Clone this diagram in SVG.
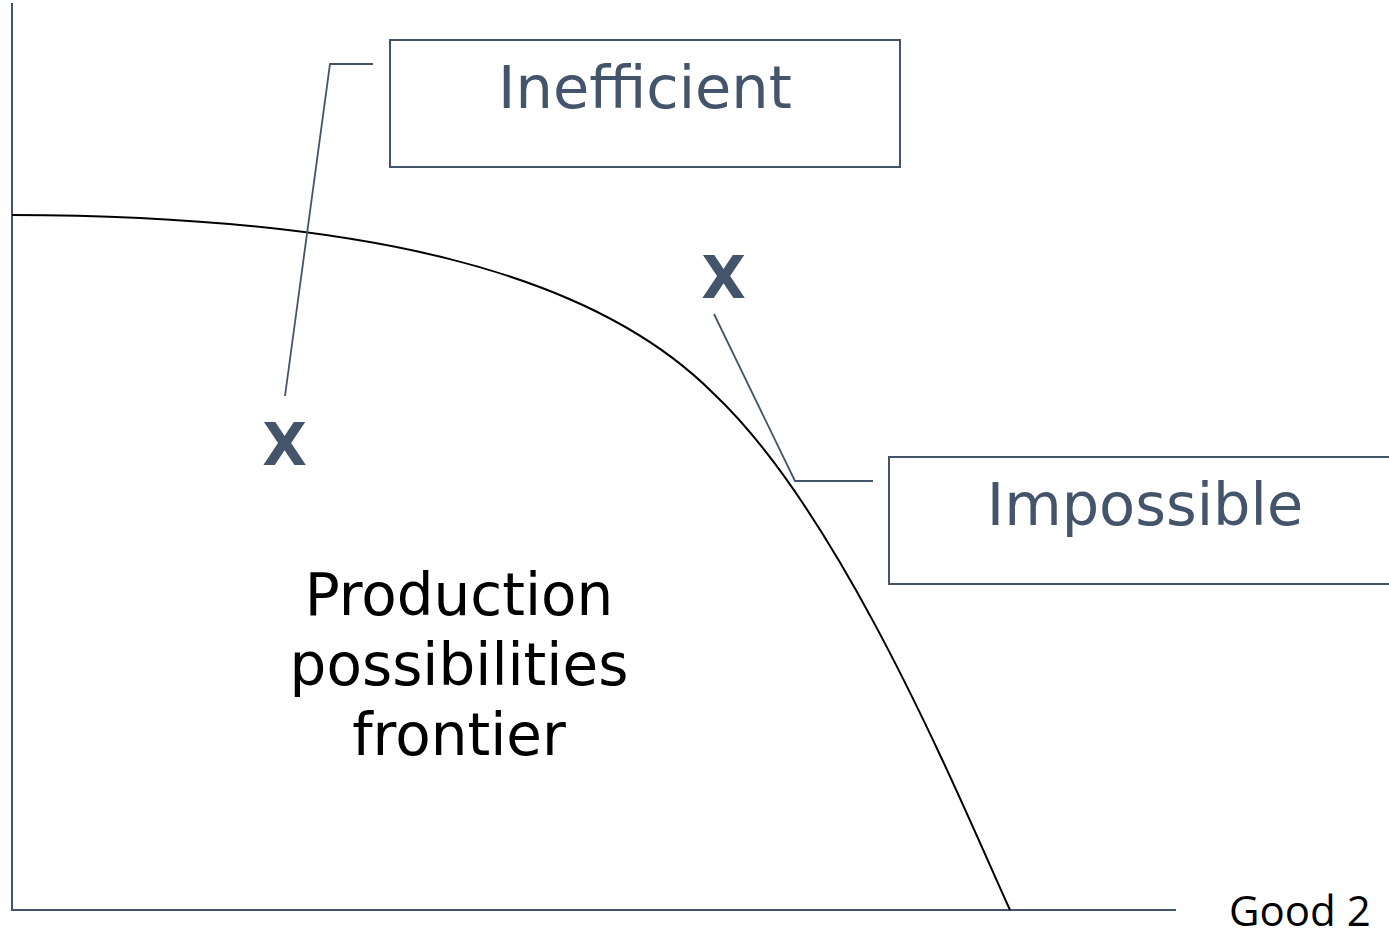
<svg xmlns="http://www.w3.org/2000/svg" width="1389" height="933" viewBox="0 0 1389 933">
  <style>
    .axis { stroke: #44546a; stroke-width: 2; fill: none; }
    .curve { stroke: #000000; stroke-width: 2; fill: none; }
    .leader { stroke: #44546a; stroke-width: 1.8; fill: none; }
    .box { stroke: #44546a; stroke-width: 2; fill: #ffffff; }
    .label { font-family: "DejaVu Sans", Verdana, sans-serif; font-size: 59px; fill: #44546a; text-anchor: middle; }
    .mark { font-family: "DejaVu Sans", Verdana, sans-serif; font-weight: bold; font-size: 58px; fill: #44546a; text-anchor: middle; }
    .ppf { font-family: "DejaVu Sans", Verdana, sans-serif; font-size: 58px; fill: #000000; text-anchor: middle; }
    .good { font-family: "Open Sans", "Liberation Sans", sans-serif; font-size: 42px; fill: #000000; }
  </style>
  <rect width="1389" height="933" fill="#ffffff"/>
  <g id="axes">
    <line class="axis" x1="12" y1="3" x2="12" y2="911"/>
    <line class="axis" x1="11" y1="910" x2="1176" y2="910"/>
  </g>
  <g id="frontier">
    <path class="curve" d="M12,215 C362,216 591,271 713,393 C843,515 960,800 1010,910"/>
  </g>
  <g id="connectors">
    <polyline class="leader" points="373,64 330,64 285,396"/>
    <polyline class="leader" points="714,314 795,481 873,481"/>
  </g>
  <g id="inefficient">
    <rect class="box" x="390" y="40" width="510" height="127"/>
    <text class="label" x="645" y="108">Inefficient</text>
  </g>
  <g id="impossible">
    <rect class="box" x="889" y="457" width="510" height="127"/>
    <text class="label" x="1145" y="525">Impossible</text>
  </g>
  <g id="point-inefficient">
    <text class="mark" x="284.5" y="465">X</text>
  </g>
  <g id="point-impossible">
    <text class="mark" x="723.5" y="298">X</text>
  </g>
  <g id="ppf-label">
    <text class="ppf" x="459" y="615">Production</text>
    <text class="ppf" x="459" y="685">possibilities</text>
    <text class="ppf" x="459" y="755">frontier</text>
  </g>
  <g id="axis-label">
    <text class="good" x="1229" y="926">Good 2</text>
  </g>
</svg>
